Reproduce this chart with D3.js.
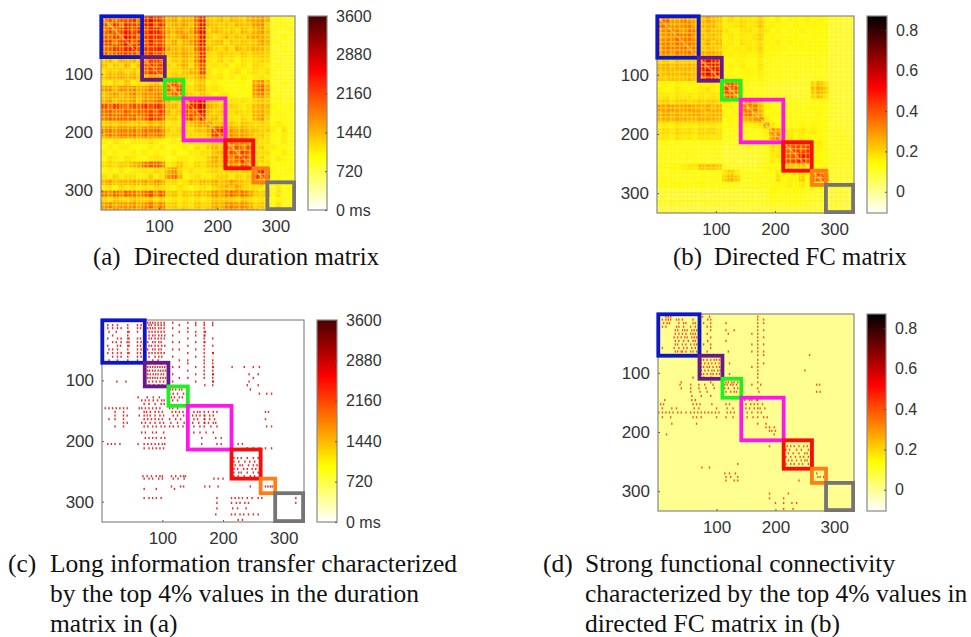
<!DOCTYPE html>
<html>
<head>
<meta charset="utf-8">
<script src="https://cdn.jsdelivr.net/npm/d3@7"></script>
<style>
  html, body { margin: 0; background: #fff; }
  .tick text { fill: #333; }
  .caption { font-family: "Liberation Serif", serif; fill: #111; }
</style>
</head>
<body>
<svg id="chart" width="971" height="637"></svg>
<script>
// every heat cell spans this many region indices
const binSize = 10;
const regionCount = 333;
const axisTicks = [100, 200, 300];

// network boxes, in region indices
const networkStart = [1, 71, 110, 142, 214, 262, 286];
const networkEnd = [71, 110, 142, 214, 262, 286, 332];
const networkColors = ['#0a18c8', '#661a88', '#22ee22', '#ff12ee', '#f80808', '#ff7f12', '#747474'];

// colour bars
const durationTicks = [0, 720, 1440, 2160, 2880, 3600];
const fcTicks = [0, 0.2, 0.4, 0.6, 0.8];
const durationStops = [[0, '#ffffff'], [0.276, '#ffff00'], [0.72, '#ff0000'], [1, '#480000']];
const fcStops = [[0, '#ffffff'], [0.25, '#ffff00'], [0.64, '#ff0000'], [1, '#000000']];

// (a), in hundreds of ms
const durationMatrix = [
  [20,22,18,23,21,24,19,24,27,25,22,15,17,14,16,15,21,25,14,13,15,13,15,14,13,15,16,17,15,8,9,8,8,8],
  [22,19,24,20,25,23,21,25,26,22,24,14,16,15,17,14,20,27,15,14,13,14,13,15,14,14,17,18,13,8,9,9,8,8],
  [19,23,20,24,26,22,25,22,25,27,21,16,15,17,15,16,22,28,13,15,14,13,14,12,15,13,15,17,14,9,8,8,9,8],
  [21,20,23,22,27,24,20,23,24,25,23,15,14,16,18,15,19,26,14,12,13,15,13,14,13,15,16,16,14,8,8,10,8,8],
  [23,24,19,25,28,21,24,21,26,23,22,14,17,13,16,17,21,27,13,14,15,12,14,13,14,13,14,17,15,9,9,8,8,9],
  [20,21,24,23,25,26,22,24,23,26,24,16,15,14,15,14,20,24,15,13,12,14,12,15,13,14,15,15,13,8,8,9,8,8],
  [22,19,21,24,23,22,23,22,24,22,21,14,16,15,17,15,18,25,13,12,14,13,13,12,14,12,14,14,13,9,8,8,8,8],
  [13,15,12,16,14,15,13,19,22,23,19,12,14,13,15,13,18,24,12,11,13,11,12,10,12,11,12,13,12,8,8,8,8,8],
  [15,12,14,13,16,12,15,21,24,22,23,13,12,14,16,12,17,22,11,12,11,12,10,11,12,10,13,12,11,8,9,8,8,8],
  [12,14,13,15,12,14,12,20,23,25,21,12,13,12,14,15,16,23,12,10,11,10,11,12,10,11,12,11,12,9,8,8,8,8],
  [14,16,15,17,15,16,14,15,17,18,16,13,15,14,14,13,15,18,12,11,12,10,11,10,11,10,11,12,11,8,8,8,8,8],
  [12,11,13,12,14,11,12,12,13,15,12,19,22,18,12,11,13,14,10,11,10,10,9,10,10,9,16,18,14,8,8,9,8,8],
  [17,18,15,19,17,18,16,17,19,18,16,21,19,23,13,12,14,15,11,12,11,10,10,9,10,10,18,21,16,9,8,8,8,9],
  [14,16,17,15,16,18,15,18,17,19,17,17,21,20,14,13,12,14,12,10,11,11,10,10,9,10,17,19,15,8,9,8,8,8],
  [15,17,14,16,15,17,14,18,17,20,19,15,13,14,17,22,25,27,15,13,12,11,12,11,12,11,13,14,13,9,9,8,9,8],
  [22,20,23,21,19,22,20,24,21,25,22,14,15,13,21,25,26,30,16,14,13,12,13,12,11,12,14,15,14,10,9,9,10,9],
  [20,22,19,20,22,19,21,22,23,21,24,15,13,14,24,20,24,28,15,13,14,13,12,13,12,12,15,16,14,9,10,9,9,9],
  [19,21,20,22,20,21,18,21,24,23,21,13,14,12,22,23,19,25,14,15,13,12,12,11,13,11,15,17,13,9,9,10,9,9],
  [13,14,13,15,14,13,14,13,15,14,15,11,12,11,13,14,16,17,18,14,14,13,14,12,14,13,12,13,12,10,11,10,9,9],
  [18,19,17,20,18,19,17,20,19,21,18,13,12,13,13,12,14,14,16,22,24,16,17,15,16,14,14,13,13,11,9,12,9,10],
  [17,20,18,21,19,20,18,21,18,20,19,12,13,12,12,13,13,13,15,24,21,15,18,16,17,15,13,14,12,10,10,11,9,9],
  [11,10,12,11,10,11,11,11,12,11,10,10,11,10,11,12,11,12,12,13,14,18,20,17,19,16,13,12,12,10,9,11,9,10],
  [10,11,10,11,11,10,10,10,11,10,11,9,10,10,11,10,12,11,13,15,13,23,19,21,18,22,12,13,11,11,10,10,9,9],
  [11,10,11,10,10,11,10,11,10,11,10,10,11,9,10,11,11,12,12,14,15,20,22,19,23,20,13,12,12,10,10,11,10,9],
  [10,12,11,10,12,11,10,10,11,12,11,9,10,11,11,10,11,11,13,16,14,22,18,21,24,19,12,13,11,9,11,10,10,9],
  [12,13,12,14,13,15,16,20,21,22,19,11,12,14,12,11,13,12,14,15,14,17,19,17,22,18,13,12,12,10,9,10,9,9],
  [10,11,10,12,10,11,11,12,11,13,12,15,18,13,11,12,11,11,12,13,12,12,13,12,13,12,22,25,20,10,9,9,10,9],
  [12,11,13,11,12,12,11,11,13,11,12,17,20,15,10,11,12,11,11,12,13,13,11,13,12,13,24,21,23,9,10,9,9,9],
  [15,17,14,16,15,16,15,17,15,18,16,12,13,11,12,14,13,15,14,16,14,15,17,15,14,13,14,15,13,10,9,9,10,9],
  [11,12,10,13,11,12,11,12,11,13,12,11,10,12,11,10,11,12,11,13,14,15,14,16,13,12,12,11,11,9,11,9,10,10],
  [20,18,21,19,22,20,18,21,23,19,22,13,15,12,14,13,15,14,15,18,16,19,21,18,20,17,14,13,15,10,12,9,10,11],
  [13,12,14,13,12,14,13,13,14,12,13,11,12,11,12,11,12,11,12,14,13,14,13,12,14,12,11,12,11,9,10,10,9,9],
  [17,19,16,18,17,18,16,18,20,17,19,13,14,12,13,12,14,13,13,16,15,18,19,17,18,16,13,14,12,9,12,9,10,10],
  [16,14,17,15,16,15,14,17,15,16,17,12,13,13,14,12,13,12,14,15,14,16,17,15,16,15,14,13,13,10,10,10,11,9]
];
// regions that show as pale stripes through (a)
const durationPaleRows = [5,12,19,24,33,41,47,53,62,68,74,82,88,94,103,109,116,124,131,138,143,150,161,168,174,181,187,193,202,208,216,222,231,239,247,255,264,272,281,288,297,305,315,325];
const durationPaleCols = [6,13,20,27,33,38,47,54,62,69,74,81,91,96,107,113,121,126,135,146,151,159,165,175,181,188,195,204,212,220,228,238,247,256,266,274,282,293,300,309,318,326];

// (b), in hundredths
const fcMatrix = [
  [33,40,30,28,34,30,27,24,28,26,23,17,20,17,19,18,17,22,16,14,17,13,15,14,14,16,14,15,13,8,9,7,8,7],
  [38,34,31,30,33,35,28,26,25,27,21,16,17,18,20,17,18,24,15,16,14,14,12,15,13,14,15,13,14,8,7,8,7,8],
  [31,33,36,33,30,37,34,23,26,24,24,18,16,15,18,19,16,21,17,13,15,12,14,13,15,12,13,14,12,7,9,7,8,7],
  [29,31,33,37,35,38,30,25,23,26,22,15,18,16,17,16,18,23,14,15,13,13,13,14,12,13,14,12,13,8,8,7,7,8],
  [32,34,32,36,36,36,33,22,27,23,25,16,17,15,19,17,16,20,15,14,16,12,15,12,14,12,12,14,12,7,8,8,8,7],
  [30,36,35,34,37,36,35,24,24,25,22,17,15,17,16,18,17,22,13,15,14,14,12,13,13,14,13,13,12,8,7,7,8,8],
  [31,33,30,35,33,36,35,28,26,28,25,16,16,15,17,15,15,19,14,13,13,12,13,12,12,12,12,12,13,7,8,7,7,7],
  [20,22,19,23,21,22,21,48,55,52,46,14,13,15,15,13,14,17,12,13,11,11,12,10,11,11,12,11,11,7,7,8,7,7],
  [25,27,24,26,26,27,25,54,46,58,50,13,15,13,16,14,13,18,13,11,12,10,11,11,10,12,11,12,10,8,7,7,7,8],
  [23,25,26,24,27,25,24,50,56,48,55,14,14,12,14,15,14,16,11,12,11,11,10,10,11,10,11,10,11,7,8,7,7,7],
  [24,22,25,23,24,26,23,42,48,50,42,15,13,14,13,14,13,15,12,10,12,10,10,11,9,10,10,11,10,7,7,7,8,7],
  [14,15,13,16,14,15,14,16,15,17,15,40,46,38,11,10,11,12,9,10,10,9,8,9,8,9,21,25,19,7,7,8,7,7],
  [16,14,15,17,15,14,15,17,18,16,15,44,36,42,12,11,10,11,10,8,9,8,8,7,9,8,23,27,22,8,7,7,7,7],
  [17,18,16,18,17,18,16,18,16,19,17,35,40,34,13,11,12,12,10,9,10,9,9,8,8,9,20,24,18,7,8,7,7,8],
  [20,22,19,21,22,20,21,22,21,23,20,15,14,13,30,36,28,22,14,12,12,10,11,12,10,11,13,12,12,8,7,7,8,7],
  [30,28,31,27,29,30,27,26,28,25,27,14,15,13,38,33,35,26,15,13,12,12,11,12,11,12,13,13,12,9,8,8,7,8],
  [26,29,27,28,26,27,29,27,25,28,26,15,13,14,32,36,31,28,14,14,13,11,12,11,12,11,12,14,11,8,8,7,8,7],
  [25,27,26,28,27,26,25,28,26,27,25,13,14,12,25,28,30,38,17,13,12,12,12,11,13,11,13,12,12,8,7,8,7,8],
  [16,17,15,18,16,17,16,18,17,18,16,12,13,12,14,15,16,17,30,17,14,14,13,12,15,13,15,13,13,8,9,8,8,8],
  [19,20,18,21,19,20,18,21,20,22,19,12,12,11,13,12,12,13,16,34,30,16,17,15,18,15,17,14,13,9,11,9,8,9],
  [17,18,16,19,17,18,16,19,18,17,18,11,12,11,11,12,12,11,14,30,36,14,18,15,16,15,13,14,12,9,10,11,8,8],
  [12,13,12,13,11,12,12,12,13,12,11,10,9,10,11,10,10,11,12,17,16,42,48,44,46,38,15,17,13,10,9,11,9,9],
  [11,12,11,11,12,11,11,11,10,12,11,7,8,7,8,9,8,10,12,18,17,48,38,44,40,46,14,16,13,9,10,10,9,8],
  [12,11,12,12,11,12,11,10,11,10,12,8,7,8,8,7,9,9,11,16,18,44,40,40,50,48,15,14,13,10,9,11,9,9],
  [11,10,11,10,11,10,12,11,10,11,10,8,8,7,7,8,7,8,12,17,15,46,42,44,50,42,13,15,12,9,10,10,9,9],
  [12,12,13,14,16,18,17,24,23,25,22,9,10,9,9,8,9,10,13,14,13,22,24,21,23,20,14,13,12,9,9,9,9,8],
  [11,10,12,11,10,12,11,12,11,12,12,18,22,17,10,11,10,11,12,13,17,15,14,17,18,15,34,42,30,9,8,8,9,8],
  [12,13,11,12,12,11,12,13,12,13,12,22,26,23,11,10,12,11,11,12,19,14,16,15,22,14,38,36,40,8,9,8,8,8],
  [13,12,13,14,12,13,12,14,13,12,13,12,13,11,10,11,11,12,12,13,14,14,16,14,17,13,16,15,14,8,8,8,9,8],
  [8,9,8,9,8,9,8,9,8,9,9,8,9,8,9,8,9,9,10,14,13,13,12,14,13,11,10,10,10,7,9,8,7,8],
  [6,7,5,7,6,7,6,7,6,7,7,7,6,7,7,8,7,7,9,12,11,12,11,12,11,10,9,9,8,6,8,7,6,7],
  [10,9,11,10,9,10,9,10,11,9,10,9,10,9,9,10,9,9,10,13,11,11,13,12,11,11,9,10,9,7,8,7,8,7],
  [4,5,4,5,4,5,4,5,5,4,5,5,4,5,6,5,6,5,6,8,7,8,7,8,8,7,7,6,6,6,7,6,6,6],
  [11,12,11,12,11,11,12,12,11,12,11,10,11,11,11,10,11,11,11,12,12,12,11,12,11,12,11,11,10,8,8,8,9,8]
];
// regions that show as pale stripes through (b)
const fcPaleRows = [6,14,22,29,36,44,51,58,67,73,80,86,95,104,113,118,127,134,141,148,156,165,171,179,188,195,204,211,218,225,233,242,250,257,266,274,283,291,299,306,313,322,328];
const fcPaleCols = [7,15,24,30,39,45,52,59,66,76,82,93,99,106,114,124,131,137,147,154,162,172,178,186,193,201,209,219,226,235,244,252,259,268,277,288,296,303,311,321,329];

// (c) surviving top 4% entries: one row index with the columns kept in it
const transferLevel = 2800;
const transferRows = [5,9,14,20,26,31,37,43,49,55,61,67,72,78,84,90,96,102,108,115,122,128,133,139,146,152,158,164,170,176,186,195,205,212,228,234,240,246,252,258,262,275,279,294,302,311,321,330];
const transferCols = [
  [76,80,84,88,93,98,103,117,142,155,169,183],
  [10,18,26,43,59,65,78,82,88,93,98,103,128,155,169,183],
  [10,18,26,32,43,59,64,76,80,84,88,94,98,103,117,142,169],
  [12,24,43,45,59,78,83,88,93,98,103,128,142,155,169,171],
  [18,43,78,84,88,94,99,104,117,155,169,170],
  [10,26,32,43,45,59,64,78,82,88,93,98,103,142,169,183],
  [18,24,32,42,45,59,65,76,84,88,94,98,117,128,155,169,170],
  [10,26,31,43,45,59,64,78,82,88,93,99,104,142,169,183],
  [12,18,26,43,59,65,76,84,88,94,98,117,128,155,169],
  [10,18,26,32,43,45,59,64,78,83,88,93,98,103,142,169,183,184],
  [18,26,32,43,59,65,78,88,94,99,117,155,169],
  [12,26,43,59,84,93,128,142,169,183],
  [78,88,98,142,169,183],
  [76,80,84,88,92,96,100,104,117,128,155,169,183,184,215,235,250,260],
  [76,79,84,88,93,97,101,105,142,169,183],
  [76,80,85,89,93,98,102,117,155,169,183,184,243,258],
  [76,80,84,88,92,97,101,105,128,142,169,183,250],
  [25,40,78,84,90,96,102,117,155,183,184,243],
  [78,86,94,100,170,183,240,258],
  [113,117,122,128,132,245],
  [112,118,125,135,260,272,280],
  [60,75,85,95,115,120,128,133],
  [66,72,78,85,92,99,103,117,125],
  [70,78,88,98,103],
  [6,12,18,24,30,36,42,62,66,72,78,84,90,96,112,117,125],
  [22,36,70,74,80,88,94,100,116,122,128,134,152,158,162,169,176,184,190,270,275],
  [22,36,42,62,70,75,80,88,96,102,118,125,135,150,156,162,169,170,178,184],
  [12,22,36,70,76,82,88,94,100,112,122,130,152,158,169,170,178,186,270],
  [36,42,66,72,80,88,96,102,114,125,136,150,160,169,170,176,184,188],
  [22,36,70,76,84,90,98,104,112,118,126,134,140,152,162,169,180,190,272,280],
  [66,72,84,90,102,152,162,172,184],
  [72,78,84,90,98,104,165,188,197],
  [10,16,22,30,60,70,76,82,88,94,100,104,165,190,197,216,225,232],
  [70,78,84,90,96,102,215,240,250,260,270,280],
  [218,224,230,240,250,258],
  [218,226,236,244,252],
  [220,228,232,242,250,256],
  [218,224,234,240,248,254],
  [218,226,230,240,250,258],
  [68,75,82,90,96,100,115,122,130,135,138,218,225,235,245,252],
  [70,78,84,94,100,118,126,136,185,192,200],
  [115,130,135,170,178,192,245,270,274,278,281],
  [70,90,120],
  [70,78,84,90,98,190,214,220,226,232,240,248,258,264,320],
  [190,214,222,228,236,242,320],
  [190,216,224,238],
  [188,214,220,228,234,242,250,258],
  [225,232]
];

// (d) surviving top 4% entries, same layout as (c)
const strongLevel = 0.46;
const strongRows = [5,10,16,22,28,34,40,46,52,58,64,70,78,84,90,96,102,108,116,120,126,132,139,146,153,160,167,175,186,192,198,204,224,230,236,242,248,254,260,270,276,282,304,312,320,330];
const strongCols = [
  [14,18,22,76,88,170],
  [8,14,18,22,32,36,42,60,85,90,170,180],
  [10,16,20,36,44,48,60,64,78,90,116,170,180],
  [8,14,32,36,44,56,64,84,90,170],
  [30,34,42,46,50,58,62,66,90,116,130,170,180],
  [30,36,42,48,56,60,64,84,120,160,170],
  [28,34,40,46,50,58,62,66,90,170,180],
  [30,36,44,52,60,64,85,116,170],
  [30,34,42,48,56,62,66,78,90,160,170,180],
  [8,28,36,44,50,58,64,90,170],
  [30,34,40,42,48,56,60,66,84,120,160,170,180],
  [170,180,258],
  [74,78,84,90,96,100,105,170],
  [74,80,86,92,98,104,122,170,180],
  [74,78,84,88,94,100,105,160,170],
  [74,80,86,92,96,102,106,170,250],
  [74,78,84,90,94,100,105,122,170],
  [60,78,90,170],
  [40,90,116,120,126,130,136,170],
  [38,56,70,80,94,114,118,124,128,134,160,175,270,275],
  [40,56,70,82,96,114,120,130,136,170],
  [56,72,84,116,124,130,134,172,270,276],
  [58,74,90],
  [12,58,64,148,156,160,168,170],
  [5,10,60,66,72,92,116,122,150,158,164,170,178],
  [8,24,32,62,70,100,118,128,150,156,164,170,174,182],
  [2,8,14,20,26,34,40,48,56,62,68,74,80,86,92,98,104,118,124,130,152,160,170,176],
  [8,22,60,66,74,100,116,128,152,162,170,180,186],
  [24,66,170,184],
  [184,190,198],
  [190,194,200],
  [15,198],
  [190,220,226,232,240,248,254],
  [218,224,236,244,256],
  [222,230,240,250,254],
  [218,226,234,242,248,256],
  [222,228,236,244,250,254],
  [136,218,226,232,240,246,256],
  [75,88],
  [114,122,132,270],
  [116,124,136,272,276,282],
  [116,130,136,240],
  [190,222],
  [190,214],
  [200,214,228,236],
  [214,230]
];

const svg = d3.select('#chart');
const defs = svg.append('defs');
defs.append('filter').attr('id', 'soft').attr('x', '-5%').attr('y', '-5%').attr('width', '110%').attr('height', '110%')
  .append('feGaussianBlur').attr('stdDeviation', 0.6);
defs.append('filter').attr('id', 'softer').attr('x', '-5%').attr('y', '-5%').attr('width', '110%').attr('height', '110%')
  .append('feGaussianBlur').attr('stdDeviation', 0.5);

function makeColor(stops, domain) {
  const span = domain[1] - domain[0];
  return d3.scaleLinear()
    .domain(stops.map(s => domain[0] + s[0] * span))
    .range(stops.map(s => s[1]))
    .clamp(true);
}

function drawAxes(g, x, y, box) {
  g.append('g')
    .attr('transform', `translate(0,${box.y1})`)
    .call(d3.axisBottom(x).tickValues(axisTicks).tickSizeInner(-2).tickSizeOuter(0).tickPadding(10))
    .call(s => s.selectAll('text').attr('font-size', 17).attr('font-family', '"Liberation Sans", sans-serif'))
    .call(s => s.selectAll('line').attr('stroke', '#555'))
    .call(s => s.select('.domain').remove());
  g.append('g')
    .attr('transform', `translate(${box.x0},0)`)
    .call(d3.axisLeft(y).tickValues(axisTicks).tickSizeInner(-2).tickSizeOuter(0).tickPadding(8))
    .call(s => s.selectAll('text').attr('font-size', 17).attr('font-family', '"Liberation Sans", sans-serif'))
    .call(s => s.selectAll('line').attr('stroke', '#555'))
    .call(s => s.select('.domain').remove());
  g.append('rect')
    .attr('x', box.x0).attr('y', box.y0)
    .attr('width', box.x1 - box.x0).attr('height', box.y1 - box.y0)
    .attr('fill', 'none').attr('stroke', '#888').attr('stroke-width', 1.2);
}

function drawNetworks(g, x, y) {
  g.append('g').attr('filter', 'url(#softer)').selectAll('rect')
    .data(networkColors)
    .join('rect')
    .attr('x', (d, i) => x(networkStart[i]))
    .attr('y', (d, i) => y(networkStart[i]))
    .attr('width', (d, i) => x(networkEnd[i]) - x(networkStart[i]))
    .attr('height', (d, i) => y(networkEnd[i]) - y(networkStart[i]))
    .attr('fill', 'none')
    .attr('stroke', d => d)
    .attr('stroke-width', 3.8);
}

function drawColorbar(name, box, domain, stops, ticks, format) {
  const gradient = defs.append('linearGradient')
    .attr('id', `bar-${name}`)
    .attr('x1', 0).attr('x2', 0).attr('y1', 1).attr('y2', 0);
  gradient.selectAll('stop').data(stops).join('stop')
    .attr('offset', d => d[0])
    .attr('stop-color', d => d[1]);

  const scale = d3.scaleLinear().domain(domain).range([box.y1, box.y0]);
  const g = svg.append('g').attr('class', `colorbar-${name}`);
  g.append('rect')
    .attr('x', box.barX0).attr('y', box.y0)
    .attr('width', box.barX1 - box.barX0).attr('height', box.y1 - box.y0)
    .attr('fill', `url(#bar-${name})`)
    .attr('stroke', '#888').attr('stroke-width', 1.2);
  g.append('g')
    .attr('transform', `translate(${box.barX1},0)`)
    .call(d3.axisRight(scale).tickValues(ticks).tickFormat(format).tickSizeInner(-2).tickSizeOuter(0).tickPadding(9))
    .call(s => s.selectAll('text').attr('font-size', 16).attr('font-family', '"Liberation Sans", sans-serif'))
    .call(s => s.selectAll('line').attr('stroke', '#555'))
    .call(s => s.select('.domain').remove());
}

function drawDense(name, box, matrix, paleRows, paleCols, unit, domain, stops) {
  const x = d3.scaleLinear().domain([0.5, regionCount + 0.5]).range([box.x0, box.x1]);
  const y = d3.scaleLinear().domain([0.5, regionCount + 0.5]).range([box.y0, box.y1]);
  const color = makeColor(stops, domain);
  const edge = i => Math.min(i * binSize, regionCount) + 0.5;

  const g = svg.append('g').attr('class', `panel-${name}`);
  defs.append('clipPath').attr('id', `clip-${name}`)
    .append('rect')
    .attr('x', box.x0).attr('y', box.y0)
    .attr('width', box.x1 - box.x0).attr('height', box.y1 - box.y0);

  const cells = matrix.flatMap((row, r) => row.map((v, c) => ({ r, c, v: v * unit })));
  const heat = g.append('g').attr('clip-path', `url(#clip-${name})`)
    .append('g').attr('filter', 'url(#soft)');
  heat.selectAll('rect')
    .data(cells)
    .join('rect')
    .attr('x', d => x(edge(d.c)))
    .attr('y', d => y(edge(d.r)))
    .attr('width', d => x(edge(d.c + 1)) - x(edge(d.c)) + 0.5)
    .attr('height', d => y(edge(d.r + 1)) - y(edge(d.r)) + 0.5)
    .attr('fill', d => color(d.v));

  // pale stripes run through the whole matrix
  heat.append('g').selectAll('line')
    .data(paleCols)
    .join('line')
    .attr('x1', d => x(d)).attr('x2', d => x(d))
    .attr('y1', box.y0).attr('y2', box.y1)
    .attr('stroke', '#ffee33').attr('stroke-width', 1.5).attr('opacity', 0.5);
  heat.append('g').selectAll('line')
    .data(paleRows)
    .join('line')
    .attr('y1', d => y(d)).attr('y2', d => y(d))
    .attr('x1', box.x0).attr('x2', box.x1)
    .attr('stroke', '#ffee33').attr('stroke-width', 1.5).attr('opacity', 0.5);

  // main diagonal of the matrix is paler
  heat.append('line')
    .attr('x1', x(1)).attr('y1', y(1))
    .attr('x2', x(regionCount)).attr('y2', y(regionCount))
    .attr('stroke', '#ffe9a0').attr('stroke-width', 1.1).attr('opacity', 0.6);

  drawAxes(g, x, y, box);
  drawNetworks(g, x, y);
}

function drawSparse(name, box, rows, cols, level, background, domain, stops) {
  const x = d3.scaleLinear().domain([0.5, regionCount + 0.5]).range([box.x0, box.x1]);
  const y = d3.scaleLinear().domain([0.5, regionCount + 0.5]).range([box.y0, box.y1]);
  const color = makeColor(stops, domain);

  const g = svg.append('g').attr('class', `panel-${name}`);
  g.append('rect')
    .attr('x', box.x0).attr('y', box.y0)
    .attr('width', box.x1 - box.x0).attr('height', box.y1 - box.y0)
    .attr('fill', color(background));

  const marks = rows.flatMap((r, i) => cols[i].map(c => ({ r, c })));
  g.append('g').attr('filter', 'url(#softer)')
    .selectAll('rect')
    .data(marks)
    .join('rect')
    .attr('x', d => x(d.c - 1.2))
    .attr('y', d => y(d.r - 1.8))
    .attr('width', d => x(d.c + 1.2) - x(d.c - 1.2))
    .attr('height', d => y(d.r + 1.8) - y(d.r - 1.8))
    .attr('fill', color(level))
    .attr('fill-opacity', 0.8);

  drawAxes(g, x, y, box);
  drawNetworks(g, x, y);
}

const durationDomain = [0, 3600];
const fcDomain = [-0.105, 0.87];
const msFormat = d => d === 0 ? '0 ms' : String(d);
const fcFormat = d => d === 0 ? '0' : d3.format('.1f')(d);

drawDense('a', { x0: 101, x1: 295, y0: 16, y1: 210 }, durationMatrix, durationPaleRows, durationPaleCols, 100, durationDomain, durationStops);
drawColorbar('a', { barX0: 308, barX1: 327, y0: 16, y1: 210 }, durationDomain, durationStops, durationTicks, msFormat);

drawDense('b', { x0: 657, x1: 854, y0: 16, y1: 213 }, fcMatrix, fcPaleRows, fcPaleCols, 0.01, fcDomain, fcStops);
drawColorbar('b', { barX0: 867, barX1: 887, y0: 16, y1: 213 }, fcDomain, fcStops, fcTicks, fcFormat);

drawSparse('c', { x0: 102, x1: 304, y0: 320, y1: 522 }, transferRows, transferCols, transferLevel, 0, durationDomain, durationStops);
drawColorbar('c', { barX0: 317, barX1: 337, y0: 320, y1: 522 }, durationDomain, durationStops, durationTicks, msFormat);

drawSparse('d', { x0: 658, x1: 854, y0: 314, y1: 511 }, strongRows, strongCols, strongLevel, 0, fcDomain, fcStops);
drawColorbar('d', { barX0: 867, barX1: 886, y0: 314, y1: 511 }, fcDomain, fcStops, fcTicks, fcFormat);

// captions
const captionLabels = ['(a)', '(b)', '(c)', '(d)'];
const captionLabelX = [93, 673, 8, 543];
const captionTextX = [134, 714, 50, 585];
const captionBaseline = [265, 265, 572, 572];
const captionSize = [24.8, 24.8, 25.5, 25.5];
const captionLines = [
  ['Directed duration matrix'],
  ['Directed FC matrix'],
  ['Long information transfer characterized', 'by the top 4% values in the duration', 'matrix in (a)'],
  ['Strong functional connectivity', 'characterized by the top 4% values in', 'directed FC matrix in (b)']
];
const captionLeading = 30;

captionLabels.forEach((label, i) => {
  svg.append('text').attr('class', 'caption').attr('font-size', captionSize[i])
    .attr('x', captionLabelX[i]).attr('y', captionBaseline[i]).text(label);
  captionLines[i].forEach((line, k) => {
    svg.append('text').attr('class', 'caption').attr('font-size', captionSize[i])
      .attr('x', captionTextX[i]).attr('y', captionBaseline[i] + k * captionLeading).text(line);
  });
});
</script>
</body>
</html>
